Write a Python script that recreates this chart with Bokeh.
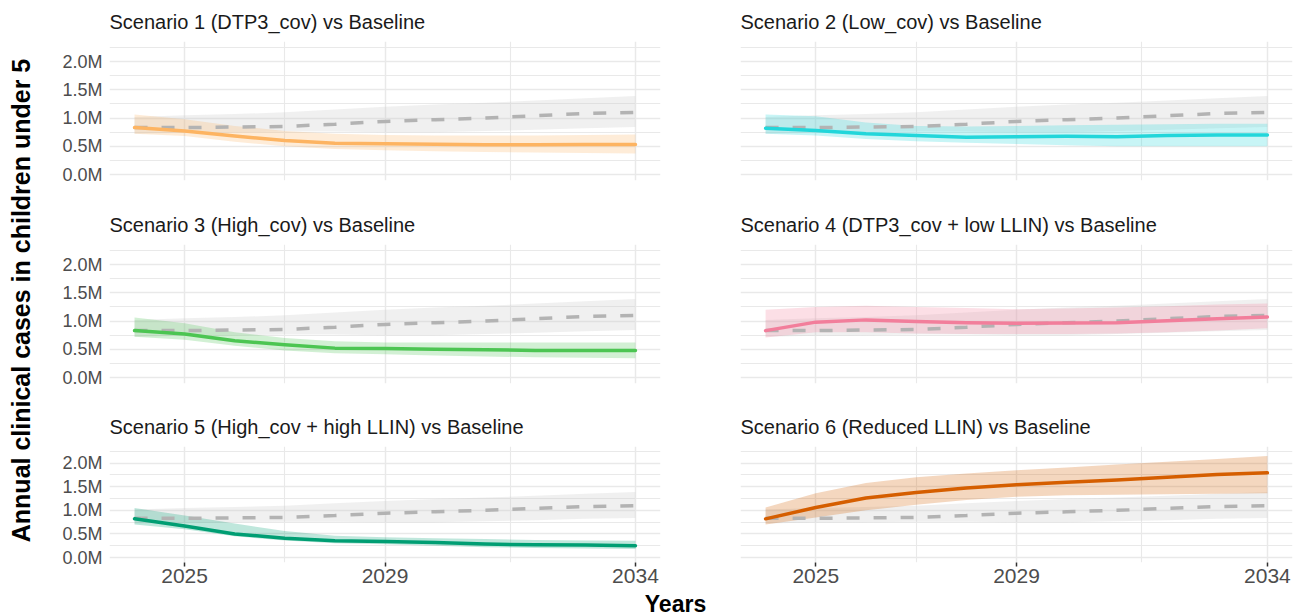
import numpy as np
from bokeh.plotting import figure
from bokeh.layouts import row, column
from bokeh.models import FixedTicker, PrintfTickFormatter, Range1d
from bokeh.embed import file_html
from bokeh.resources import INLINE
from bokeh.core.properties import value

# ---- data (annual clinical cases in children under 5, millions) ----
years = [2024, 2025, 2026, 2027, 2028, 2029, 2030, 2031, 2032, 2033, 2034]
year_ticks = [2025, 2029, 2034]
case_ticks = [0.0, 0.5, 1.0, 1.5, 2.0]

baseline_mid = [0.83, 0.83, 0.84, 0.85, 0.89, 0.94, 0.97, 1.00, 1.04, 1.08, 1.10]
baseline_lo = [0.72, 0.74, 0.75, 0.76, 0.76, 0.75, 0.75, 0.77, 0.79, 0.82, 0.84]
baseline_hi = [1.02, 1.05, 1.07, 1.10, 1.15, 1.20, 1.24, 1.27, 1.31, 1.35, 1.39]

scenario_titles = [
    "Scenario 1 (DTP3_cov) vs Baseline",
    "Scenario 2 (Low_cov) vs Baseline",
    "Scenario 3 (High_cov) vs Baseline",
    "Scenario 4 (DTP3_cov + low LLIN) vs Baseline",
    "Scenario 5 (High_cov + high LLIN) vs Baseline",
    "Scenario 6 (Reduced LLIN) vs Baseline",
]
scenario_colors = ["#FDB462", "#22D6DA", "#4CC552", "#F27E9B", "#009E73", "#D55E00"]

s1_mid = [0.83, 0.77, 0.68, 0.60, 0.555, 0.545, 0.535, 0.525, 0.525, 0.53, 0.53]
s1_lo = [0.72, 0.68, 0.58, 0.50, 0.45, 0.43, 0.41, 0.40, 0.39, 0.38, 0.37]
s1_hi = [1.06, 0.98, 0.86, 0.77, 0.72, 0.70, 0.69, 0.69, 0.69, 0.70, 0.71]

s2_mid = [0.82, 0.78, 0.72, 0.69, 0.66, 0.67, 0.675, 0.67, 0.69, 0.70, 0.70]
s2_lo = [0.72, 0.69, 0.63, 0.59, 0.56, 0.54, 0.52, 0.50, 0.50, 0.50, 0.50]
s2_hi = [1.06, 1.03, 0.92, 0.86, 0.85, 0.86, 0.87, 0.88, 0.89, 0.90, 0.90]

s3_mid = [0.83, 0.77, 0.65, 0.58, 0.52, 0.515, 0.50, 0.49, 0.48, 0.48, 0.48]
s3_lo = [0.72, 0.67, 0.56, 0.48, 0.43, 0.41, 0.39, 0.37, 0.36, 0.35, 0.34]
s3_hi = [1.06, 0.96, 0.80, 0.70, 0.64, 0.62, 0.62, 0.62, 0.62, 0.62, 0.62]

s4_mid = [0.83, 0.98, 1.02, 0.99, 0.97, 0.96, 0.965, 0.97, 1.005, 1.04, 1.07]
s4_lo = [0.71, 0.80, 0.80, 0.78, 0.77, 0.77, 0.77, 0.78, 0.80, 0.83, 0.87]
s4_hi = [1.20, 1.25, 1.27, 1.25, 1.23, 1.21, 1.22, 1.24, 1.26, 1.29, 1.31]

s5_mid = [0.82, 0.67, 0.50, 0.41, 0.355, 0.34, 0.32, 0.285, 0.27, 0.265, 0.25]
s5_lo = [0.70, 0.60, 0.45, 0.36, 0.30, 0.28, 0.25, 0.22, 0.20, 0.19, 0.18]
s5_hi = [1.05, 0.89, 0.72, 0.56, 0.46, 0.43, 0.41, 0.39, 0.37, 0.36, 0.355]

s6_mid = [0.82, 1.06, 1.26, 1.38, 1.475, 1.545, 1.595, 1.645, 1.70, 1.76, 1.795]
s6_lo = [0.70, 0.85, 1.00, 1.12, 1.22, 1.29, 1.32, 1.33, 1.34, 1.35, 1.36]
s6_hi = [1.06, 1.36, 1.58, 1.70, 1.78, 1.85, 1.91, 1.97, 2.03, 2.09, 2.15]

scenario_mid = [s1_mid, s2_mid, s3_mid, s4_mid, s5_mid, s6_mid]
scenario_lo = [s1_lo, s2_lo, s3_lo, s4_lo, s5_lo, s6_lo]
scenario_hi = [s1_hi, s2_hi, s3_hi, s4_hi, s5_hi, s6_hi]

FONT = "Liberation Sans"
GRID = "#E9E9E9"


def make_panel(i, left_col, row_idx):
    top, bottom, frame_h = [(41, 20, 139), (44, 22, 139), (41, 28, 116)][row_idx]
    if left_col:
        b_left, b_right, frame_w = 64, 40, 551
    else:
        b_left, b_right, frame_w = 40, 2, 552
    p = figure(
        frame_width=frame_w, frame_height=frame_h,
        min_border_left=b_left, min_border_right=b_right,
        min_border_top=top, min_border_bottom=bottom,
        x_range=Range1d(2023.5, 2034.5), y_range=Range1d(-0.106, 2.354),
        toolbar_location=None, output_backend="svg",
    )
    p.outline_line_color = None
    p.background_fill_color = "white"
    p.border_fill_color = "white"

    p.title.text = scenario_titles[i]
    p.title.align = "left"
    p.title.text_font = FONT
    p.title.text_font_size = "20px"
    p.title.text_font_style = "normal"
    p.title.text_color = "#1A1A1A"
    p.title.text_line_height = 0.8
    p.title.standoff = 17

    # grid
    p.xgrid.ticker = FixedTicker(ticks=year_ticks, minor_ticks=[2027, 2031.5])
    p.ygrid.ticker = FixedTicker(ticks=case_ticks,
                                 minor_ticks=[0.25, 0.75, 1.25, 1.75, 2.25])
    for g in (p.xgrid, p.ygrid):
        g.grid_line_color = GRID
        g.grid_line_width = 1.5
        g.minor_grid_line_color = GRID
        g.minor_grid_line_width = 1.1

    # y axis
    p.yaxis.ticker = FixedTicker(ticks=case_ticks)
    p.yaxis.formatter = PrintfTickFormatter(format="%.1fM")
    p.yaxis.axis_line_color = None
    p.yaxis.major_tick_line_color = None
    p.yaxis.minor_tick_line_color = None
    p.yaxis.major_tick_out = 0
    p.yaxis.major_tick_in = 0
    p.yaxis.major_label_standoff = 7
    p.yaxis.major_label_text_font = FONT
    p.yaxis.major_label_text_font_size = "18px"
    p.yaxis.major_label_text_color = "#4D4D4D"
    p.yaxis.visible = left_col

    # x axis
    p.xaxis.ticker = FixedTicker(ticks=year_ticks)
    p.xaxis.axis_line_color = None
    p.xaxis.major_tick_line_color = "#333333"
    p.xaxis.major_tick_line_width = 1.5
    p.xaxis.major_tick_out = 4
    p.xaxis.major_tick_in = 0
    p.xaxis.minor_tick_line_color = None
    p.xaxis.major_label_standoff = 2
    p.xaxis.major_label_text_font = FONT
    p.xaxis.major_label_text_font_size = "21px"
    p.xaxis.major_label_text_color = "#4D4D4D"
    p.xaxis.visible = (row_idx == 2)

    color = scenario_colors[i]
    # uncertainty ribbons
    p.varea(x=years, y1=baseline_lo, y2=baseline_hi,
            fill_color="#CCCCCC", fill_alpha=0.3)
    p.varea(x=years, y1=scenario_lo[i], y2=scenario_hi[i],
            fill_color=color, fill_alpha=0.25)
    # baseline and scenario medians
    p.line(x=years, y=baseline_mid, line_color="#B3B3B3", line_width=3.5,
           line_dash="13 14")
    p.line(x=years, y=scenario_mid[i], line_color=color, line_width=3.5,
           line_join="round", line_cap="round")
    return p


panels = []
for r in range(3):
    panels.append(row(make_panel(2 * r, True, r), make_panel(2 * r + 1, False, r),
                      spacing=0))
grid = column(*panels, spacing=0)

# y-axis title strip
ystrip = figure(width=45, height=590, x_range=Range1d(0, 45), y_range=Range1d(0, 590),
                x_axis_type=None, y_axis_type=None, min_border=0,
                toolbar_location=None, output_backend="svg")
ystrip.outline_line_color = None
ystrip.grid.visible = False
ystrip.text(x=[20], y=[290], text=["Annual clinical cases in children under 5"],
            angle=np.pi / 2, text_align="center", text_baseline="middle",
            text_font=value(FONT), text_font_style="bold", text_font_size="25px",
            text_color="#000000")

# x-axis title strip
xstrip = figure(width=1294, height=25, x_range=Range1d(0, 1294), y_range=Range1d(0, 25),
                x_axis_type=None, y_axis_type=None, min_border=0,
                toolbar_location=None, output_backend="svg")
xstrip.outline_line_color = None
xstrip.grid.visible = False
xstrip.text(x=[675], y=[12], text=["Years"], text_align="center",
            text_baseline="middle", text_font=value(FONT), text_font_style="bold",
            text_font_size="23px", text_color="#000000")

layout = column(row(ystrip, grid, spacing=0), xstrip, spacing=0)

open("out.html", "w").write(file_html(layout, INLINE))
